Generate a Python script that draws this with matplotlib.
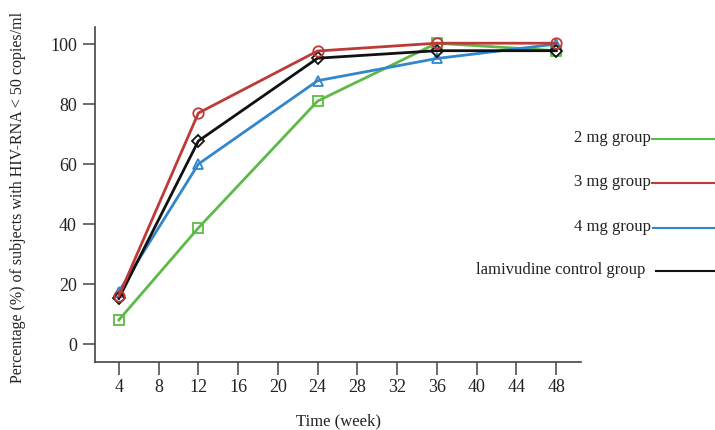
import matplotlib.pyplot as plt
from matplotlib.lines import Line2D

weeks = [4, 12, 24, 36, 48]
mg2 = [8, 38.7, 81, 100.3, 97.8]
mg3 = [16, 77, 97.7, 100.3, 100.3]
mg4 = [17.5, 60, 87.8, 95.2, 100]
control = [15.2, 67.7, 95.3, 97.8, 97.8]

labels = ['2 mg group', '3 mg group', '4 mg group', 'lamivudine control group']
colors = ['#5dba47', '#bd3b37', '#3286cc', '#111111']
markers = ['s', 'o', '^', 'D']
xticks = [4, 8, 12, 16, 20, 24, 28, 32, 36, 40, 44, 48]
yticks = [0, 20, 40, 60, 80, 100]

plt.rcParams['font.family'] = ['Liberation Serif', 'DejaVu Serif']

W, H = 715, 430
fig = plt.figure(figsize=(W / 100, H / 100), dpi=100)
ax = fig.add_axes([95 / W, (H - 362) / H, (581 - 95) / W, (362 - 27) / H])

series = [mg2, mg3, mg4, control]
# draw in order so black and red sit on top like the original
for idx in [0, 2, 3, 1]:
    ms = 7.5 if markers[idx] != 'D' else 6.5
    ax.plot(weeks, series[idx], color=colors[idx], lw=2, marker=markers[idx],
            ms=ms, mfc='none', mec=colors[idx], mew=1.3, zorder=3)

ax.set_xlim(1.6, 50.5)
ax.set_ylim(-6, 105.7)
ax.set_xticks(xticks)
ax.set_yticks(yticks)
ax.tick_params(axis='both', direction='out', length=9, width=1.1,
               color='#444444', labelsize=13, labelcolor='#222222')
ax.tick_params(axis='x', pad=3)
ax.tick_params(axis='y', pad=4)
for s in ['top', 'right']:
    ax.spines[s].set_visible(False)
for s in ['left', 'bottom']:
    ax.spines[s].set_color('#444444')
    ax.spines[s].set_linewidth(1.2)

# axis titles placed in figure pixels
fig.text(338 / W, (H - 421) / H, 'Time (week)', ha='center', va='center',
         fontsize=12, color='#222222')
fig.text(18 / W, (H - 197) / H,
         'Percentage (%) of subjects with HIV-RNA < 50 copies/ml',
         rotation=90, ha='center', va='center', fontsize=11.5, color='#222222')

# legend drawn by hand to the right of the plot
text_y = [138, 182, 227, 270]
text_x = [651, 651, 651, 645]
line_x0 = [652, 652, 653, 656]
for i in range(4):
    fig.text(text_x[i] / W, (H - text_y[i]) / H, labels[i], ha='right',
             va='center', fontsize=12, color='#222222')
    fig.add_artist(Line2D([line_x0[i] / W, 714 / W],
                          [(H - text_y[i] - 1) / H, (H - text_y[i] - 1) / H],
                          color=colors[i], lw=1.5, transform=fig.transFigure))

fig.savefig('out.png', dpi=100)
